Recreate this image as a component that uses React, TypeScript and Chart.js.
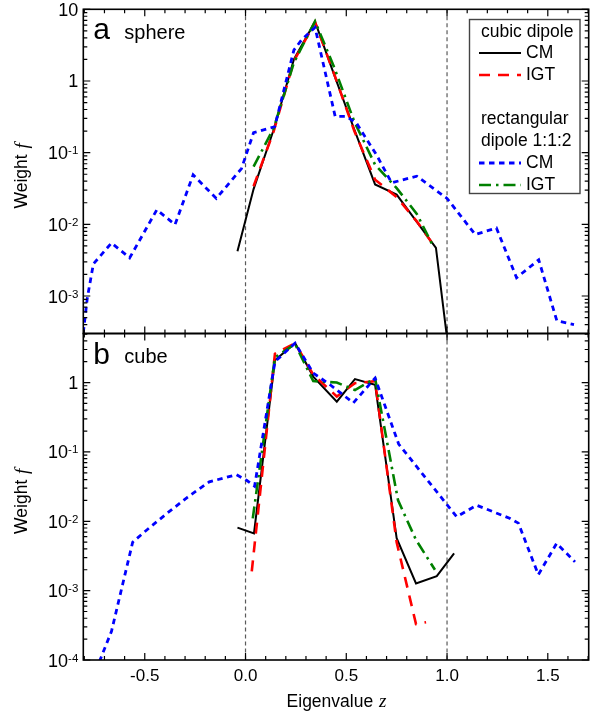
import React, { useEffect, useRef } from 'react';
import { Chart, registerables } from 'chart.js';

Chart.register(...registerables);

// ---------------- data ----------------
const X_MIN = -0.805;
const X_MAX = 1.703;
const X_MAJOR_TICKS = [-0.5, 0.0, 0.5, 1.0, 1.5];
const X_TICK_LABELS = ['-0.5', '0.0', '0.5', '1.0', '1.5'];
const GUIDE_LINES = [0, 1];

const SPHERE_Y_MIN = 3.05e-4;
const SPHERE_Y_MAX = 10;
const SPHERE_Y_EXPONENTS = [1, 0, -1, -2, -3];
const CUBE_Y_MIN = 1e-4;
const CUBE_Y_MAX = 5.1;
const CUBE_Y_EXPONENTS = [0, -1, -2, -3, -4];

const X_TITLE = 'Eigenvalue ';
const X_TITLE_VAR = 'z';
const Y_TITLE = 'Weight ';
const Y_TITLE_VAR = 'f';

const PANEL_A = ['a', 'sphere'];
const PANEL_B = ['b', 'cube'];

const LEGEND_HEAD_1 = ['cubic dipole'];
const LEGEND_HEAD_2 = ['rectangular', 'dipole 1:1:2'];
const SERIES_NAMES = ['CM', 'IGT'];

// (a) sphere
const sphereCubicCM_z = [-0.04, 0.04, 0.14, 0.24, 0.345, 0.44, 0.54, 0.643, 0.75, 0.85, 0.945, 1.005];
const sphereCubicCM_f = [0.0042, 0.031, 0.21, 2.0, 6.7, 1.22, 0.21, 0.036, 0.026, 0.0108, 0.0047, 0.0002];

const sphereCubicIGT_z = [0.04, 0.14, 0.24, 0.345, 0.44, 0.54, 0.643, 0.75, 0.85, 0.945];
const sphereCubicIGT_f = [0.034, 0.2, 1.9, 6.6, 1.25, 0.2, 0.042, 0.024, 0.011, 0.0046];

const sphereRectCM_z = [-0.805, -0.785, -0.755, -0.665, -0.575, -0.44, -0.35, -0.26, -0.145, -0.02, 0.04, 0.145, 0.24, 0.28, 0.345, 0.445, 0.5, 0.55, 0.65, 0.725, 0.85, 1.0, 1.14, 1.245, 1.345, 1.455, 1.545, 1.63];
const sphereRectCM_f = [3.1e-4, 9.4e-4, 0.0028, 0.0055, 0.0034, 0.016, 0.0099, 0.049, 0.023, 0.06, 0.19, 0.23, 2.7, 3.8, 5.6, 0.32, 0.32, 0.26, 0.093, 0.038, 0.047, 0.023, 0.0072, 0.0089, 0.0018, 0.0032, 4.5e-4, 4.0e-4];

const sphereRectIGT_z = [0.04, 0.14, 0.24, 0.345, 0.44, 0.54, 0.643, 0.75, 0.85, 0.935];
const sphereRectIGT_f = [0.064, 0.22, 1.8, 6.8, 1.55, 0.27, 0.068, 0.032, 0.014, 0.0047];

// (b) cube
const cubeCubicCM_z = [-0.04, 0.042, 0.146, 0.246, 0.336, 0.453, 0.543, 0.643, 0.75, 0.846, 0.949, 1.035];
const cubeCubicCM_f = [0.0081, 0.0067, 2.1, 3.7, 1.22, 0.53, 1.12, 0.93, 0.0057, 0.00127, 0.00162, 0.00345];

const cubeCubicIGT_z = [0.031, 0.146, 0.246, 0.336, 0.453, 0.543, 0.643, 0.75, 0.846, 0.896];
const cubeCubicIGT_f = [0.0019, 2.6, 3.7, 1.3, 0.63, 0.98, 1.05, 0.005, 3.3e-4, 3.5e-4];

const cubeRectCM_z = [-0.725, -0.665, -0.56, -0.49, -0.39, -0.29, -0.18, -0.045, 0.005, 0.045, 0.146, 0.246, 0.336, 0.42, 0.535, 0.643, 0.76, 1.048, 1.147, 1.313, 1.354, 1.453, 1.544, 1.635];
const cubeRectCM_f = [9.5e-5, 2.6e-4, 0.005, 0.0075, 0.013, 0.022, 0.037, 0.047, 0.039, 0.032, 2.0, 3.7, 1.37, 0.93, 0.51, 1.16, 0.13, 0.0116, 0.017, 0.011, 0.0094, 0.0017, 0.0048, 0.0026];

const cubeRectIGT_z = [0.036, 0.146, 0.246, 0.336, 0.453, 0.543, 0.643, 0.757, 0.846, 0.94];
const cubeRectIGT_f = [0.011, 2.3, 3.6, 1.05, 1.0, 0.78, 1.15, 0.02, 0.0054, 0.002];

// ---------------- styles ----------------
const SANS = '"Liberation Sans", Arial, sans-serif';
const SERIF = '"Liberation Serif", "Times New Roman", serif';

const STYLE_CUBIC_CM = { color: '#000000', dash: [] as number[], width: 2 };
const STYLE_CUBIC_IGT = { color: '#ff0000', dash: [11, 8], width: 2.6 };
const STYLE_RECT_CM = { color: '#0000ff', dash: [5.5, 4.5], width: 2.8 };
const STYLE_RECT_IGT = { color: '#008000', dash: [12, 5, 2.5, 5], width: 2.6 };

type Style = { color: string; dash: number[]; width: number };

function pts(z: number[], f: number[]) {
  return z.map((v, i) => ({ x: v, y: f[i] }));
}

function ds(label: string, z: number[], f: number[], s: Style) {
  return {
    label,
    data: pts(z, f),
    borderColor: s.color,
    backgroundColor: s.color,
    borderWidth: s.width,
    borderDash: s.dash,
    pointRadius: 0,
    tension: 0,
    fill: false,
    clip: 0,
  };
}

type PanelCfg = {
  id: string;
  labels: string[];
  exps: number[];
  yMin: number;
  yMax: number;
  xLabels: boolean;
  legend: boolean;
};

function drawSup(ctx: CanvasRenderingContext2D, e: number, rightX: number, y: number) {
  const baseFont = `18px ${SANS}`;
  const supFont = `11.5px ${SANS}`;
  if (e === 0 || e === 1) {
    ctx.font = baseFont;
    ctx.textAlign = 'right';
    ctx.textBaseline = 'alphabetic';
    ctx.fillText(e === 0 ? '1' : '10', rightX, y + 6.5);
    return;
  }
  const sup = String(e);
  ctx.font = supFont;
  const wSup = ctx.measureText(sup).width;
  ctx.font = baseFont;
  const wBase = ctx.measureText('10').width;
  const start = rightX - wSup - wBase;
  ctx.textAlign = 'left';
  ctx.textBaseline = 'alphabetic';
  ctx.fillText('10', start, y + 6.5);
  ctx.font = supFont;
  ctx.fillText(sup, start + wBase, y + 1.5);
}

function drawMixed(ctx: CanvasRenderingContext2D, a: string, b: string, cx: number, cy: number) {
  const f1 = `17.5px ${SANS}`;
  const f2 = `italic 19px ${SERIF}`;
  ctx.font = f1;
  const w1 = ctx.measureText(a).width;
  ctx.font = f2;
  const w2 = ctx.measureText(b).width;
  const start = cx - (w1 + w2) / 2;
  ctx.textAlign = 'left';
  ctx.textBaseline = 'middle';
  ctx.font = f1;
  ctx.fillText(a, start, cy);
  ctx.font = f2;
  ctx.fillText(b, start + w1 + 1, cy);
}

function panelPlugin(cfg: PanelCfg) {
  return {
    id: 'panel_' + cfg.id,
    beforeDatasetsDraw(chart: any) {
      const { ctx, chartArea: a, scales } = chart;
      ctx.save();
      ctx.strokeStyle = '#5a5a5a';
      ctx.lineWidth = 1.2;
      ctx.setLineDash([4, 3]);
      for (const v of GUIDE_LINES) {
        const px = scales.x.getPixelForValue(v);
        ctx.beginPath();
        ctx.moveTo(px, a.top);
        ctx.lineTo(px, a.bottom);
        ctx.stroke();
      }
      ctx.restore();
    },
    afterDatasetsDraw(chart: any) {
      const { ctx, chartArea: a, scales } = chart;
      const xs = scales.x;
      const ys = scales.y;
      ctx.save();
      ctx.setLineDash([]);
      ctx.strokeStyle = '#000';
      ctx.fillStyle = '#000';
      // ticks x
      ctx.lineWidth = 1.2;
      for (let k = -8; k <= 17; k++) {
        const v = k / 10;
        const px = xs.getPixelForValue(v);
        const major = k % 5 === 0;
        const len = major ? 7 : 4;
        ctx.beginPath();
        ctx.moveTo(px, a.bottom);
        ctx.lineTo(px, a.bottom - len);
        ctx.moveTo(px, a.top);
        ctx.lineTo(px, a.top + len);
        ctx.stroke();
      }
      // ticks y
      const d0 = Math.floor(Math.log10(cfg.yMin));
      const d1 = Math.ceil(Math.log10(cfg.yMax));
      for (let d = d0; d <= d1; d++) {
        for (let m = 1; m <= 9; m++) {
          const v = m * Math.pow(10, d);
          if (v < cfg.yMin * 0.999 || v > cfg.yMax * 1.001) continue;
          const py = ys.getPixelForValue(v);
          const len = m === 1 ? 7 : 4;
          ctx.beginPath();
          ctx.moveTo(a.left, py);
          ctx.lineTo(a.left + len, py);
          ctx.moveTo(a.right, py);
          ctx.lineTo(a.right - len, py);
          ctx.stroke();
        }
      }
      // frame
      ctx.lineWidth = 1.6;
      ctx.strokeRect(a.left, a.top, a.right - a.left, a.bottom - a.top);
      // y labels
      for (const e of cfg.exps) {
        const py = ys.getPixelForValue(Math.pow(10, e));
        drawSup(ctx, e, a.left - 5, py);
      }
      // y title
      ctx.save();
      ctx.translate(22.5, (a.top + a.bottom) / 2 + 5);
      ctx.rotate(-Math.PI / 2);
      drawMixed(ctx, Y_TITLE, Y_TITLE_VAR, 0, 0);
      ctx.restore();
      // x labels
      if (cfg.xLabels) {
        ctx.font = `17px ${SANS}`;
        ctx.textAlign = 'center';
        ctx.textBaseline = 'middle';
        X_MAJOR_TICKS.forEach((v, i) => {
          ctx.fillText(X_TICK_LABELS[i], xs.getPixelForValue(v), a.bottom + 16);
        });
        drawMixed(ctx, X_TITLE, X_TITLE_VAR, (a.left + a.right) / 2, a.bottom + 42);
      }
      // panel label
      ctx.textAlign = 'left';
      ctx.textBaseline = 'alphabetic';
      ctx.font = `30px ${SANS}`;
      ctx.fillText(cfg.labels[0], a.left + 10, a.top + 30);
      ctx.font = `20px ${SANS}`;
      ctx.fillText(cfg.labels[1], a.left + 41, a.top + 29.5);
      // legend
      if (cfg.legend) {
        ctx.lineWidth = 1.4;
        ctx.strokeStyle = '#444';
        ctx.strokeRect(469.5, 19.5, 110.5, 174);
        ctx.font = `17.5px ${SANS}`;
        ctx.textBaseline = 'middle';
        ctx.textAlign = 'left';
        ctx.fillText(LEGEND_HEAD_1[0], 481, 32);
        ctx.fillText(LEGEND_HEAD_2[0], 481, 119);
        ctx.fillText(LEGEND_HEAD_2[1], 481, 141);
        const items: [Style, string, number][] = [
          [STYLE_CUBIC_CM, SERIES_NAMES[0], 53],
          [STYLE_CUBIC_IGT, SERIES_NAMES[1], 75],
          [STYLE_RECT_CM, SERIES_NAMES[0], 163],
          [STYLE_RECT_IGT, SERIES_NAMES[1], 185],
        ];
        for (const [s, t, y] of items) {
          ctx.save();
          ctx.strokeStyle = s.color;
          ctx.lineWidth = s.width;
          ctx.setLineDash(s.dash);
          ctx.beginPath();
          ctx.moveTo(479, y);
          ctx.lineTo(521, y);
          ctx.stroke();
          ctx.restore();
          ctx.fillStyle = '#000';
          ctx.fillText(t, 526, y);
        }
      }
      ctx.restore();
    },
  };
}

function makeChart(canvas: HTMLCanvasElement, cfg: PanelCfg, datasets: any[], padding: any) {
  return new Chart(canvas, {
    type: 'line',
    data: { datasets },
    options: {
      responsive: false,
      animation: false,
      events: [],
      layout: { padding },
      plugins: { legend: { display: false }, tooltip: { enabled: false } },
      scales: {
        x: { type: 'linear', min: X_MIN, max: X_MAX, display: false },
        y: { type: 'logarithmic', min: cfg.yMin, max: cfg.yMax, display: false },
      },
    },
    plugins: [panelPlugin(cfg)],
  } as any);
}

export default function App() {
  const topRef = useRef<HTMLCanvasElement>(null);
  const botRef = useRef<HTMLCanvasElement>(null);

  useEffect(() => {
    const top = makeChart(
      topRef.current!,
      { id: 'a', labels: PANEL_A, exps: SPHERE_Y_EXPONENTS, yMin: SPHERE_Y_MIN, yMax: SPHERE_Y_MAX, xLabels: false, legend: true },
      [
        ds('rect CM', sphereRectCM_z, sphereRectCM_f, STYLE_RECT_CM),
        ds('rect IGT', sphereRectIGT_z, sphereRectIGT_f, STYLE_RECT_IGT),
        ds('cubic IGT', sphereCubicIGT_z, sphereCubicIGT_f, STYLE_CUBIC_IGT),
        ds('cubic CM', sphereCubicCM_z, sphereCubicCM_f, STYLE_CUBIC_CM),
      ],
      { left: 83.3, right: 604 - 588.7, top: 9.3, bottom: 345 - 333.5 }
    );
    const bot = makeChart(
      botRef.current!,
      { id: 'b', labels: PANEL_B, exps: CUBE_Y_EXPONENTS, yMin: CUBE_Y_MIN, yMax: CUBE_Y_MAX, xLabels: true, legend: false },
      [
        ds('rect CM', cubeRectCM_z, cubeRectCM_f, STYLE_RECT_CM),
        ds('rect IGT', cubeRectIGT_z, cubeRectIGT_f, STYLE_RECT_IGT),
        ds('cubic IGT', cubeCubicIGT_z, cubeCubicIGT_f, STYLE_CUBIC_IGT),
        ds('cubic CM', cubeCubicCM_z, cubeCubicCM_f, STYLE_CUBIC_CM),
      ],
      { left: 83.3, right: 604 - 588.7, top: 333.5 - 320, bottom: 717 - 320 - 340 }
    );
    return () => {
      top.destroy();
      bot.destroy();
    };
  }, []);

  return (
    <div style={{ position: 'absolute', left: 0, top: 0, width: 604, height: 717, background: '#fff' }}>
      <canvas ref={botRef} width={604} height={397} style={{ position: 'absolute', left: 0, top: 320, width: 604, height: 397 }} />
      <canvas ref={topRef} width={604} height={345} style={{ position: 'absolute', left: 0, top: 0, width: 604, height: 345 }} />
    </div>
  );
}
